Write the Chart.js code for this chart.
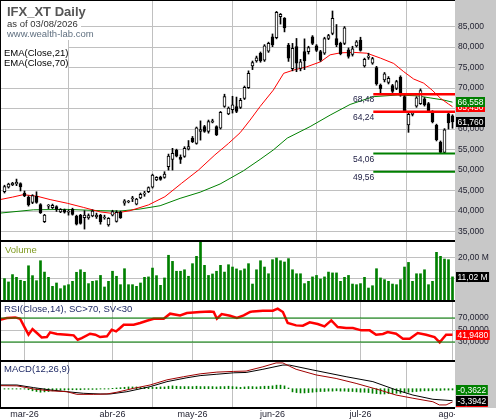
<!DOCTYPE html>
<html>
<head>
<meta charset="utf-8">
<title>IFX_XT Daily</title>
<script src="https://cdn.jsdelivr.net/npm/chart.js@4.4.1/dist/chart.umd.min.js"></script>
<style>
  html, body { margin: 0; padding: 0; background: #fff; }
  #wrap { position: relative; width: 496px; height: 420px; overflow: hidden;
          font-family: "Liberation Sans", Arial, sans-serif; }
  #strip { position: absolute; left: 455px; top: 0; width: 41px; height: 408px; background: #c8c8c8; }
  #cover { position: absolute; left: 455px; top: 408px; width: 41px; height: 12px; background: #fff; }
  canvas { position: absolute; left: 0; }
  .box { position: absolute; background: #fff; }
  .t { position: absolute; white-space: nowrap; line-height: 1; }
</style>
</head>
<body>
<div id="wrap">
  <div id="strip"></div>
  <canvas id="price" width="496" height="240" style="top:0"></canvas>
  <canvas id="volume" width="496" height="60" style="top:240px"></canvas>
  <canvas id="rsi" width="496" height="60" style="top:300px"></canvas>
  <canvas id="macd" width="496" height="60" style="top:360px"></canvas>
  <div id="cover"></div>
  <div class="box" style="left:1px;top:1px;width:80px;height:39px"></div>
  <div class="t" style="left:7px;top:5px;font-size:13px;font-weight:bold;color:#555">IFX_XT Daily</div>
  <div class="t" style="left:7px;top:18.7px;font-size:9.5px;color:#333">as of 03/08/2026</div>
  <div class="t" style="left:7px;top:29.3px;font-size:9.5px;color:#607080">www.wealth-lab.com</div>
  <div class="box" style="left:1px;top:47px;width:67px;height:21px"></div>
  <div class="t" style="left:4px;top:47.7px;font-size:9.5px;color:#000">EMA(Close,21)</div>
  <div class="t" style="left:4px;top:58.3px;font-size:9.5px;color:#000">EMA(Close,70)</div>
  <div class="t" style="left:5px;top:244.6px;font-size:9.5px;color:#7f9a1f">Volume</div>
  <div class="t" style="left:4px;top:303.6px;font-size:9.5px;color:#1f2a66">RSI(Close,14), SC&gt;70, SV&lt;30</div>
  <div class="t" style="left:4px;top:363.6px;font-size:9.5px;color:#1f2a66">MACD(12,26,9)</div>
</div>
<script>
// daily bars, index 0 = first bar on the chart
const opens = [
  44.7, 45.8, 46.4, 46.6, 46.7, 44.4, 43.4, 42.1, 43.6, 41.6,
  37.4, 41.2, 40.8, 41.1, 39.8, 40.3, 39.7, 40.4, 38.8, 39.0,
  38.4, 38.3, 38.8, 38.6, 39.0, 38.3, 36.6, 39.0, 37.5, 39.7,
  41.9, 42.2, 43.0, 41.7, 43.2, 44.1, 44.7, 45.8, 47.6, 48.3,
  48.2, 50.8, 52.6, 54.9, 53.1, 53.3, 55.1, 57.8, 56.5, 59.4,
  60.6, 59.4, 61.7, 60.6, 60.2, 65.5, 63.7, 64.7, 65.5, 65.3,
  67.5, 70.1, 75.4, 76.6, 78.5, 76.8, 79.0, 82.5, 82.3, 87.4,
  87.0, 80.5, 74.7, 80.1, 74.8, 78.9, 78.9, 82.5, 80.3, 78.9,
  78.5, 82.1, 83.3, 82.1, 80.9, 80.9, 79.3, 78.2, 80.3, 81.7,
  75.4, 77.5, 76.1, 75.0, 70.7, 72.0, 71.4, 70.6, 69.9, 72.7,
  67.9, 61.0, 63.6, 65.6, 66.2, 67.4, 66.2, 64.2, 60.9, 56.8,
  54.3, 63.7, 63.2
];
const highs = [
  46.3, 46.8, 47.0, 47.8, 46.9, 44.9, 43.7, 44.0, 44.7, 41.8,
  39.2, 41.6, 41.7, 41.3, 40.6, 40.5, 40.3, 40.7, 39.0, 39.2,
  40.1, 39.3, 40.3, 39.5, 39.2, 39.0, 38.4, 40.2, 40.1, 40.0,
  42.8, 42.6, 43.6, 43.1, 44.4, 44.8, 45.9, 49.0, 48.4, 48.5,
  49.6, 53.9, 55.3, 55.1, 53.7, 55.7, 57.2, 58.2, 60.5, 62.0,
  60.9, 62.2, 62.4, 60.8, 64.3, 68.5, 65.4, 68.0, 67.8, 67.5,
  70.5, 74.2, 76.6, 77.8, 78.8, 80.6, 81.2, 83.2, 88.7, 88.2,
  87.2, 80.9, 80.9, 82.1, 77.0, 82.0, 80.2, 82.8, 80.6, 79.2,
  82.4, 83.1, 88.8, 85.5, 81.2, 85.0, 79.8, 80.2, 81.6, 82.4,
  77.3, 78.5, 77.5, 75.3, 71.0, 73.8, 72.8, 70.9, 71.9, 73.0,
  68.2, 64.0, 64.3, 67.9, 69.8, 67.7, 66.5, 64.5, 61.2, 57.1,
  60.1, 64.0, 63.5
];
const lows = [
  44.4, 45.6, 46.2, 46.2, 44.9, 43.5, 41.2, 41.8, 41.9, 39.4,
  37.2, 40.6, 40.6, 39.9, 39.6, 39.5, 39.0, 39.0, 36.6, 36.8,
  35.6, 38.0, 38.6, 38.2, 36.8, 38.0, 36.3, 38.8, 37.3, 38.2,
  41.4, 42.0, 42.3, 41.5, 43.0, 43.6, 44.5, 45.6, 47.4, 47.5,
  48.0, 50.0, 50.0, 53.2, 51.6, 53.1, 54.9, 56.7, 56.3, 57.3,
  59.2, 59.0, 61.5, 58.4, 60.0, 65.3, 63.5, 63.9, 64.0, 65.0,
  67.2, 69.9, 74.5, 76.3, 76.3, 76.5, 78.7, 80.1, 82.0, 85.6,
  83.7, 76.5, 74.2, 74.0, 74.2, 74.5, 78.3, 80.6, 78.9, 76.5,
  78.2, 81.8, 83.0, 80.1, 78.1, 80.6, 77.3, 77.8, 80.0, 79.0,
  75.1, 77.0, 75.8, 70.7, 68.6, 71.5, 71.0, 68.9, 69.6, 68.0,
  64.2, 59.2, 63.2, 65.3, 66.0, 65.6, 64.2, 61.5, 57.1, 54.06,
  54.06, 60.0, 60.2
];
const closes = [
  46.0, 46.6, 46.8, 47.0, 45.9, 43.7, 41.5, 43.8, 42.1, 39.6,
  39.0, 41.4, 41.4, 40.4, 40.4, 39.7, 39.9, 39.2, 36.8, 37.0,
  39.0, 38.9, 40.0, 39.0, 37.4, 38.5, 38.2, 39.9, 39.7, 38.4,
  42.5, 42.4, 43.2, 42.9, 44.1, 44.4, 45.7, 48.8, 48.2, 47.7,
  49.0, 53.4, 54.1, 53.4, 52.6, 55.3, 55.7, 56.9, 60.3, 59.9,
  59.4, 61.8, 62.0, 58.6, 64.1, 67.9, 65.1, 65.9, 64.3, 67.0,
  70.2, 73.6, 76.2, 77.4, 76.6, 80.3, 80.9, 80.5, 88.5, 88.0,
  84.7, 77.3, 79.7, 76.1, 76.4, 76.6, 79.9, 80.9, 79.2, 76.8,
  82.1, 82.8, 87.0, 80.6, 78.4, 84.7, 77.7, 79.6, 81.3, 79.2,
  77.0, 77.8, 77.2, 71.0, 69.8, 73.5, 72.4, 69.2, 71.6, 68.3,
  64.5, 63.6, 64.0, 67.6, 69.4, 65.9, 64.5, 61.8, 57.4, 54.3,
  59.8, 61.5, 61.76
];
// volume in millions
const volumes = [
  10.2, 8.6, 12.1, 10.8, 9.4, 8.9, 16.3, 11.6, 9.2, 18.7,
  13.3, 10.8, 6.5, 8.1, 5.4, 6.8, 7.3, 8.9, 13.2, 14.4,
  13.2, 7.8, 8.9, 9.2, 11.7, 6.2, 8.9, 13.7, 11.3, 7.3,
  14.9, 7.3, 7.3, 6.5, 8.1, 10.8, 11.0, 15.2, 11.6, 7.0,
  10.5, 21.3, 18.4, 13.7, 13.7, 14.4, 11.3, 17.3, 20.8, 27.6,
  16.5, 11.7, 12.4, 13.7, 16.5, 13.3, 16.8, 15.7, 14.8, 14.0,
  14.8, 17.3, 7.6, 14.4, 18.7, 15.7, 12.5, 19.2, 20.0, 18.7,
  18.1, 19.7, 14.4, 12.5, 12.5, 7.8, 8.9, 11.0, 11.7, 10.0,
  11.0, 13.3, 12.9, 12.9, 8.9, 10.8, 11.7, 7.6, 7.3, 7.8,
  10.8, 5.7, 6.8, 14.9, 10.5, 9.7, 8.9, 7.6, 7.3, 9.7,
  15.7, 17.9, 8.9, 12.5, 12.5, 14.4, 7.3, 8.9, 22.7, 20.8,
  19.5, 19.2, 11.02
];
// indicator lines as [bar, value]
const ema21 = [
  [-1.1, 42.8], [2, 43.4], [4.7, 44.0], [8.2, 43.6], [11.4, 42.8], [15.7, 41.9],
  [19.7, 40.9], [23.9, 39.8], [27.2, 39.4], [31.4, 40.1], [36, 41.5], [40.1, 43.5],
  [44.3, 46.8], [48.5, 50.0], [52.6, 53.7], [56, 56.5], [58.9, 59.1], [61.4, 62.2],
  [63.9, 65.5], [67.2, 69.5], [69.8, 73.6], [72.3, 74.4], [75.6, 75.2], [79, 76.4],
  [81.4, 78.1], [84, 78.6], [87.4, 78.7], [90.6, 78.5], [94, 77.3], [97.3, 76.0],
  [99.8, 74.0], [102.3, 72.2], [104.8, 71.2], [106.9, 69.5], [109, 67.5], [111, 66.1],
  [112, 65.45]
];
const ema70 = [
  [-1.1, 39.5], [7.2, 40.3], [15.7, 40.4], [23.9, 40.1], [28.9, 40.0], [33.9, 40.5],
  [38.9, 41.3], [43.9, 43.1], [48.9, 44.6], [53.9, 46.6], [59.7, 49.8], [63.9, 52.6],
  [67.2, 54.9], [70.7, 57.8], [76.4, 60.6], [81.4, 63.4], [86.4, 66.0], [92.2, 67.9],
  [98.2, 68.3], [103.2, 68.1], [106.4, 67.6], [109.7, 67.1], [112, 66.558]
];
const rsi14 = [
  [-1.1, 67.2], [0.6, 70], [2.7, 71], [3.9, 68.8], [4.9, 56], [6, 42.2], [7, 51.6],
  [8.1, 45], [9.3, 37.7], [10.6, 38.3], [11.4, 46], [13.1, 43.3], [15.6, 42.2],
  [17.3, 41.1], [18.3, 33.8], [19.3, 36.6], [21.4, 43.8], [22.7, 42.2], [23.9, 38.3],
  [25.6, 39.4], [26.8, 50.5], [27.9, 47.7], [28.9, 53.3], [29.8, 58.8], [32.3, 58.8],
  [33.9, 61.6], [35.6, 65.5], [37.3, 68.8], [39.8, 68.8], [41.4, 77.2], [43.9, 74.4],
  [45.6, 78.3], [48.9, 80], [51.4, 81], [52.3, 80], [53.1, 68.8], [54.3, 76.6],
  [56.4, 73.8], [58.1, 70], [59.8, 74.4], [61.4, 80], [62.1, 81], [64.6, 82.2],
  [67.1, 82.2], [68.3, 85.5], [69.6, 80], [70.8, 61.6], [72.9, 57.7], [74.6, 57.2],
  [76.3, 62.7], [78.3, 60], [80, 56], [81.7, 66], [83.3, 55], [85.4, 53.3],
  [87.1, 53.3], [89.2, 49.4], [91.3, 49.4], [92.9, 42.2], [94.6, 43.3], [95.8, 46.6],
  [97.9, 43.8], [99.6, 35.5], [101.3, 35.5], [103.3, 45], [105.4, 42.2], [107.5, 38.3],
  [108.8, 29.4], [110.4, 42.2], [112, 41.948]
];
const macdLine = [
  [-1.1, 0.86], [3.1, 0.8], [5.6, 0.3], [7.3, -0.1], [11.4, -0.6], [15.6, -0.85],
  [18.1, -1.6], [22.3, -1.6], [25.6, -1.5], [28.1, -1.0], [32.3, 0.1], [36.4, 1.05],
  [40.6, 2.5], [44.8, 3.4], [48.9, 4.2], [53.1, 4.7], [57.3, 4.9], [60.4, 5.0],
  [64.6, 6.2], [67.9, 7.3], [69.6, 7.3], [71.2, 6.4], [72.9, 5.5], [77.9, 3.9],
  [82.9, 2.9], [87.9, 1.5], [93.7, -0.35], [97.9, -1.8], [102.1, -2.7], [107.1, -3.7],
  [108.7, -4.6], [110.4, -4.6], [112, -3.756]
];
const signalLine = [
  [-1.1, 1.05], [3.1, 1.05], [7.3, 0.3], [11.4, -0.35], [15.6, -0.85], [19.7, -1.3],
  [23.9, -1.5], [26.4, -1.5], [30.6, -0.85], [36.4, 0.57], [40.6, 1.99], [45.6, 3.1],
  [48.9, 3.7], [53.1, 4.1], [57.3, 4.5], [60.4, 4.6], [64.6, 5.5], [69.6, 6.7],
  [71.2, 6.7], [77.1, 5.3], [85.4, 3.4], [92.1, 2.0], [97.9, -0.35], [102.1, -1.8],
  [107.1, -3.0], [112, -3.3942]
];
const histogram = [
  -0.1, -0.1, -0.1, -0.1, -0.1, -0.1,
  -0.3, -0.6, -0.8, -1.0, -0.9, -0.8, -0.6,
  -0.5, -0.4, -0.4, -0.3, -0.3, -0.3, -0.3, -0.2, -0.2, -0.2, -0.2, -0.1, -0.1, -0.1,
  0.1, 0.2, 0.3, 0.4, 0.5, 0.5, 0.5, 0.4, 0.4, 0.3, 0.4, 0.4, 0.5, 0.5,
  0.7, 0.8, 0.7, 0.6, 0.6, 0.6, 0.6, 0.7, 0.6, 0.6, 0.6, 0.6, 0.5, 0.6, 0.6, 0.7, 0.6, 0.5, 0.4, 0.5,
  0.6, 0.6, 0.5, 0.6, 0.7, 0.7, 0.8, 1.0, 1.0, 0.8, 0.2,
  -0.9, -1.1, -1.2, -1.2, -1.1, -1.0, -0.9, -0.8, -0.8, -0.7,
  -0.7, -0.6, -0.7, -0.7, -0.8, -0.8, -0.9, -1.0, -1.0, -1.1,
  -1.3, -1.4, -1.5, -1.5, -1.4, -1.4, -1.3, -1.3, -1.1, -1.0,
  -0.9, -0.8, -0.7, -0.6, -0.6, -0.6, -0.5, -0.5, -0.4, -0.4, -0.3622
];
const resistances = [68.48, 64.24];
const supports = [54.06, 49.56];
const levelStart = 92.2;
const monthTicks = [5, 27, 47, 67, 89, 112];
const monthLabels = ["mar-26", "abr-26", "may-26", "jun-26", "jul-26", "ago-26"];
const priceTicks = [35, 40, 45, 50, 55, 60, 65, 70, 75, 80, 85];
const volumeTicks = [10, 20];
const rsiTicks = [30, 50, 70];
const rsiBands = [70, 30];

const FONT = "'Liberation Sans', Arial, sans-serif";
const GRID = "#c0c0c0";
const TEXT = "#1e1e2e";
const X_MIN = -1.125, X_MAX = 112.625;

const es = (v, d) => v.toFixed(d).replace(".", ",");
const pts = (arr) => arr.map(([x, y]) => ({ x, y }));
const last = (arr) => arr[arr.length - 1][1];
const idx = closes.map((_, i) => i);

function xAxis(showDates) {
  return {
    type: "linear", min: X_MIN, max: X_MAX, offset: false,
    afterBuildTicks: (s) => { s.ticks = monthTicks.map((v) => ({ value: v })); },
    grid: { color: GRID, drawTicks: false },
    border: { display: false },
    ticks: {
      display: showDates, autoSkip: false, maxRotation: 0, padding: 1, color: TEXT,
      font: { family: FONT, size: 9 },
      callback: (v, i) => monthLabels[i],
    },
    afterFit: (s) => { s.height = showDates ? 12 : 0; },
  };
}

function yAxis(min, max, tickList, fmt) {
  return {
    position: "right", min, max,
    afterBuildTicks: (s) => { s.ticks = tickList.map((v) => ({ value: v })); },
    grid: { color: GRID, drawTicks: false },
    border: { display: false },
    ticks: { display: tickList.length > 0, color: TEXT, font: { family: FONT, size: 8.5 }, padding: 3, callback: fmt },
    afterFit: (s) => { s.width = 41; s.paddingTop = 0; s.paddingBottom = 0; },
  };
}

// black pane frame: top separator, left edge, optional bottom edge
function framePlugin(topW, bottomW) {
  return {
    id: "frame",
    afterDraw(chart) {
      const { ctx, chartArea: a } = chart;
      ctx.save();
      ctx.fillStyle = "#000";
      ctx.fillRect(0, 0, a.right, topW);
      ctx.fillRect(0, 0, 1, a.bottom);
      if (bottomW) ctx.fillRect(0, a.bottom - bottomW / 2, a.right, bottomW);
      ctx.restore();
    },
  };
}

// coloured value boxes on the right axis
function tagsPlugin(tags) {
  return {
    id: "tags",
    afterDraw(chart) {
      const { ctx } = chart;
      const y = chart.scales.y;
      ctx.save();
      ctx.font = "8.5px " + FONT;
      ctx.textBaseline = "middle";
      tags.forEach((t) => {
        const py = Math.round(y.getPixelForValue(t.value));
        const w = ctx.measureText(t.text).width + 3;
        ctx.fillStyle = t.bg;
        ctx.fillRect(456, py - 5, w, 10);
        ctx.fillStyle = "#fff";
        ctx.fillText(t.text, 457.5, py + 0.5);
      });
      ctx.restore();
    },
  };
}

const levelLabels = {
  id: "levelLabels",
  afterDatasetsDraw(chart) {
    const { ctx, scales: { x, y } } = chart;
    ctx.save();
    ctx.font = "8.5px " + FONT;
    ctx.fillStyle = "#1a1a40";
    ctx.textAlign = "right";
    ctx.textBaseline = "top";
    resistances.concat(supports).forEach((v) => {
      ctx.fillText(es(v, 2), x.getPixelForValue(levelStart) + 1, y.getPixelForValue(v) + 1.5);
    });
    ctx.restore();
  },
};

function paneChart(id, type, datasets, yScale, plugins, showDates) {
  return new Chart(document.getElementById(id), {
    type,
    data: { datasets },
    options: {
      responsive: false, animation: false, events: [],
      layout: { padding: 0, autoPadding: false },
      plugins: { legend: { display: false }, tooltip: { enabled: false } },
      scales: { x: xAxis(showDates), y: yScale },
    },
    plugins,
  });
}

function flatLine(v, x0, color, width) {
  return { type: "line", data: [{ x: x0, y: v }, { x: X_MAX, y: v }], borderColor: color,
           borderWidth: width, pointRadius: 0, order: 0 };
}

// price pane
const bodyColors = closes.map((c, i) => (c >= opens[i] ? "#ffffff" : "#000000"));
paneChart("price", "bar", [
  ...resistances.map((v) => flatLine(v, levelStart, "#ff0000", 2.5)),
  ...supports.map((v) => flatLine(v, levelStart, "#008000", 2)),
  {
    data: idx.map((i) => ({ x: i, y: [Math.min(opens[i], closes[i]), Math.max(opens[i], closes[i])] })),
    backgroundColor: bodyColors, borderColor: "#000", borderWidth: 1, borderSkipped: false,
    barThickness: 3, grouped: false, minBarLength: 1, order: 1,
  },
  {
    data: idx.map((i) => ({ x: i, y: [lows[i], highs[i]] })),
    backgroundColor: "#000", barThickness: 1, grouped: false, order: 2,
  },
  { type: "line", data: pts(ema21), borderColor: "#ff0000", borderWidth: 1, pointRadius: 0, order: 3 },
  { type: "line", data: pts(ema70), borderColor: "#008000", borderWidth: 1, pointRadius: 0, order: 3 },
], yAxis(32.94, 91.48, priceTicks, (v) => es(v, 3)), [
  levelLabels,
  framePlugin(1, 0),
  tagsPlugin([
    { value: last(ema21), text: es(last(ema21), 3), bg: "#ff0000" },
    { value: last(ema70), text: es(last(ema70), 3), bg: "#008000" },
    { value: closes[closes.length - 1], text: es(closes[closes.length - 1], 3), bg: "#000" },
  ]),
], false);

// volume pane
paneChart("volume", "bar", [
  { data: idx.map((i) => ({ x: i, y: volumes[i] })), backgroundColor: "#008000", barThickness: 2, grouped: false },
], yAxis(0, 28.57, volumeTicks, (v) => es(v, 2) + " M"), [
  framePlugin(2, 0),
  tagsPlugin([{ value: volumes[volumes.length - 1], text: es(volumes[volumes.length - 1], 2) + " M", bg: "#000" }]),
], false);

// RSI pane
paneChart("rsi", "line", [
  ...rsiBands.map((v) => flatLine(v, X_MIN, "#008000", 1)),
  { data: pts(rsi14), borderColor: "#ff0000", borderWidth: 2.5, pointRadius: 0, order: 1 },
], yAxis(0, 100, rsiTicks, (v) => es(v, 4)), [
  framePlugin(2, 0),
  tagsPlugin([{ value: last(rsi14), text: es(last(rsi14), 4), bg: "#ff0000" }]),
], false);

// MACD pane
const macdY = yAxis(-5.47, 8.13, [], (v) => "");
macdY.grid.display = false;
paneChart("macd", "bar", [
  { type: "line", data: pts(macdLine), borderColor: "#a00000", borderWidth: 1, pointRadius: 0, order: 0 },
  { type: "line", data: pts(signalLine), borderColor: "#000", borderWidth: 1, pointRadius: 0, order: 0 },
  { data: idx.map((i) => ({ x: i, y: histogram[i] })), backgroundColor: "#008000", barThickness: 1, grouped: false, order: 1 },
], macdY, [
  framePlugin(2, 2),
  tagsPlugin([
    { value: last(macdLine), text: es(last(macdLine), 4), bg: "#ff0000" },
    { value: last(signalLine), text: es(last(signalLine), 4), bg: "#000" },
    { value: histogram[histogram.length - 1], text: es(histogram[histogram.length - 1], 4), bg: "#008000" },
  ]),
], true);
</script>
</body>
</html>
